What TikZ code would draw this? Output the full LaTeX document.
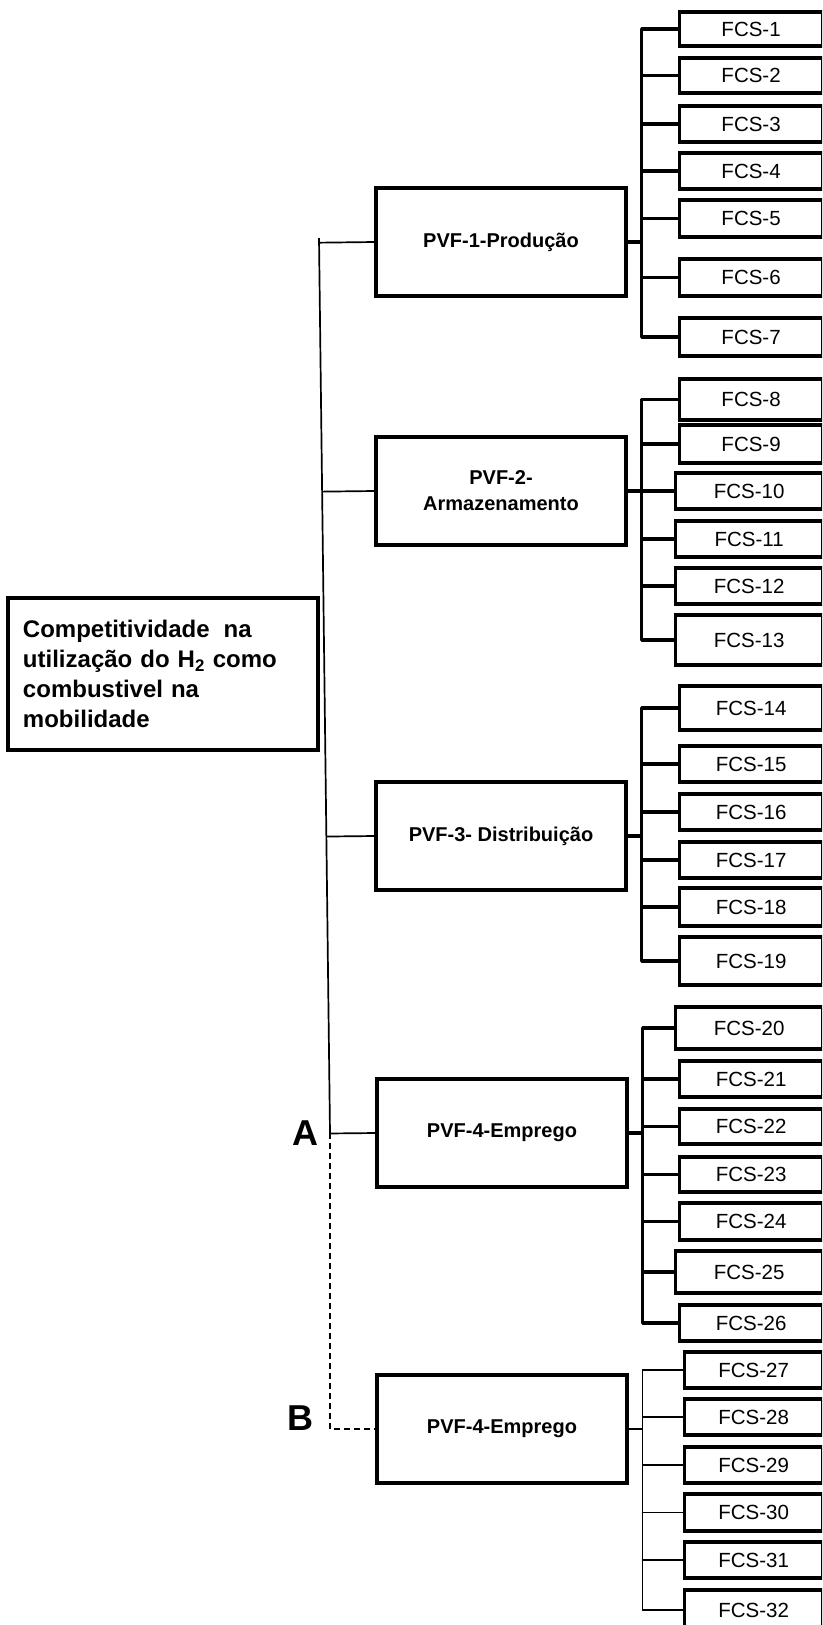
\documentclass[tikz,border=0pt]{standalone}
\usepackage{fontspec}
\setmainfont{Liberation Sans}
\usetikzlibrary{calc}

\begin{document}
\begin{tikzpicture}[x=1pt,y=-1pt,
 every node/.style={font=\fontsize{20.5}{24}\selectfont},
 fcsbox/.style={draw,line width=3.2pt,anchor=west,inner sep=0pt},
 pvfbox/.style={draw,line width=3.2pt,minimum width=250,minimum height=108,
  align=center,font=\fontsize{20}{26}\selectfont\bfseries},
 branch/.style={line width=3.2pt,line join=round},
 thinbranch/.style={line width=1.6pt},
 spine/.style={line width=1.7pt},
 letter/.style={font=\fontsize{36}{40}\selectfont\bfseries}]
 \useasboundingbox (0,0) rectangle (822,1625);
 \clip (0,0) rectangle (822,1625);

 % main objective
 \node[draw,line width=3.2pt,minimum width=310,minimum height=152,text width=280,
  align=left,font=\fontsize{24}{30}\selectfont\bfseries] (comp) at (163,674)
  {Competitividade\hspace{14pt}na\\utilização do H\textsubscript{2} como\\combustivel na\\mobilidade};

 % pvf boxes
 \node[pvfbox] (p1) at (501,242) {PVF-1-Produção};
 \node[pvfbox] (p2) at (501,491) {PVF-2-\\Armazenamento};
 \node[pvfbox] (p3) at (501,836) {PVF-3- Distribuição};
 \node[pvfbox] (p4) at (502,1133) {PVF-4-Emprego};
 \node[pvfbox] (p5) at (502,1429) {PVF-4-Emprego};

 % fcs boxes
 \foreach \i/\x/\y/\h in {1/678/29/34,2/678/75.5/35,3/678/124/36,4/678/171/36,
   5/678/218.5/37,6/678/277.5/37,7/678/337/38,8/678/399.5/41,9/678/444/38,
   10/674/491/36,11/674/539/36,12/674/586/36,13/674/640/50,14/678/708/44,
   15/678/764/36,16/678/812/36,17/678/860/36,18/678/907/38,19/678/961/48,
   20/674/1028/42,21/678/1079/36,22/678/1126.5/35,23/678/1174.5/35,
   24/678/1221.5/37,25/674/1272/42,26/678/1323/36,27/683/1370/36,
   28/683/1417/36,29/683/1465/36,30/683/1512.5/37,31/683/1560/36,32/683/1610/40}
  {\node[fcsbox,minimum width=821-\x,minimum height=\h] (f\i) at (\x,\y) {FCS-\i};}

 % branches
 \foreach \g/\first/\last in {1/1/7,2/8/13,3/14/19,4/20/26}{
  \draw[branch] (p\g.east) -- ++(14,0) coordinate (b\g);
  \draw[branch] (f\first.west) -| (b\g |- f\last.west) -- (f\last.west);
  \foreach \i in {\first,...,\last}
   {\draw[branch] (b\g |- f\i.west) -- (f\i.west);}}
 \draw[thinbranch] (p5.east) -- ++(14,0) coordinate (b5);
 \draw[thinbranch] (f27.west) -| (b5 |- f32.west) -- (f32.west);
 \foreach \i in {27,...,32}
  {\draw[thinbranch] (b5 |- f\i.west) -- (f\i.west);}

 % spine
 \coordinate (sTop) at (319,238);
 \coordinate (sBot) at (330,1133);
 \draw[spine] (sTop) -- (sBot);
 \foreach \i in {1,...,4}
  {\draw[spine] (p\i.west) -- ($(sTop)!(p\i.west)!(sBot)$);}
 \draw[spine,dash pattern=on 6pt off 4pt] (sBot) |- (p5.west);

 \node[letter] (lA) at (305,1133) {A};
 \node[letter] (lB) at (300,1418) {B};
\end{tikzpicture}
\end{document}
